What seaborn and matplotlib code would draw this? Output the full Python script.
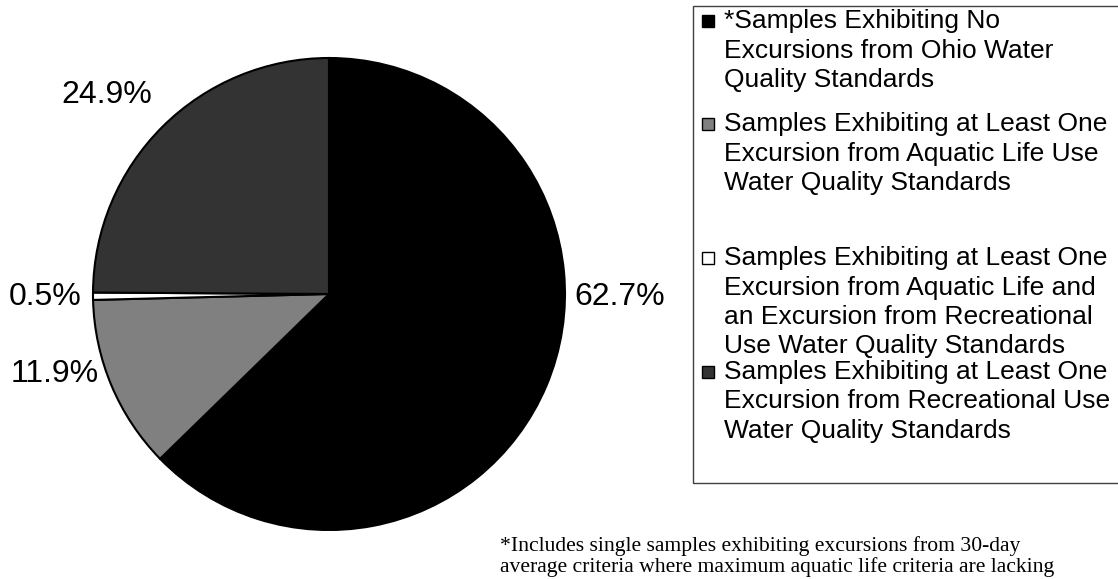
import matplotlib
matplotlib.use("Agg")
import matplotlib.pyplot as plt
from matplotlib.patches import Rectangle
import seaborn as sns

# Share of samples by water quality standard outcome
categories = [
    "*Samples Exhibiting No\nExcursions from Ohio Water\nQuality Standards",
    "Samples Exhibiting at Least One\nExcursion from Aquatic Life Use\nWater Quality Standards",
    "Samples Exhibiting at Least One\nExcursion from Aquatic Life and\nan Excursion from Recreational\nUse Water Quality Standards",
    "Samples Exhibiting at Least One\nExcursion from Recreational Use\nWater Quality Standards",
]
percentages = [62.7, 11.9, 0.5, 24.9]
colors = ["#000000", "#808080", "#ffffff", "#333333"]
footnote_lines = [
    "*Includes single samples exhibiting excursions from 30-day",
    "average criteria where maximum aquatic life criteria are lacking",
]

sns.set_style("white")
plt.rcParams["font.family"] = ["Liberation Sans", "DejaVu Sans"]

W, H = 1118, 579
fig = plt.figure(figsize=(W / 100, H / 100), dpi=100)


def fx(px):
    return px / W


def fy(py):
    return 1 - py / H


# Pie axes
cx, cy, r = 329, 294, 236
ax = fig.add_axes([fx(cx - r), fy(cy + r), 2 * r / W, 2 * r / H])
ax.pie(percentages, colors=colors, startangle=90, counterclock=False,
       radius=1, wedgeprops=dict(edgecolor="black", linewidth=1.5))
ax.set_xlim(-1, 1)
ax.set_ylim(-1, 1)
ax.set_aspect("equal")
ax.axis("off")

# Percentage labels placed around the pie
label_pos = [(1.233, -0.013), (-1.161, -0.339), (-1.201, -0.013), (-0.941, 0.843)]
for pct, (lx, ly) in zip(percentages, label_pos):
    ax.text(lx, ly, f"{pct:.1f}%", ha="center", va="center",
            fontsize=23, color="black", clip_on=False)

# Legend frame
fig.patches.append(Rectangle((fx(693), fy(483)), fx(1130 - 693), (483 - 6) / H,
                             transform=fig.transFigure, facecolor="white",
                             edgecolor="#404040", linewidth=1.0, zorder=0))

# Legend entries: swatch + wrapped label
entry_tops = [21, 124, 258, 372]
line_pitch = 29.5
for label, col, ytop in zip(categories, colors, entry_tops):
    fig.patches.append(Rectangle((fx(702), fy(ytop + 6)), 12 / W, 12 / H,
                                 transform=fig.transFigure, facecolor=col,
                                 edgecolor="black", linewidth=1.0, zorder=2))
    for i, line in enumerate(label.split("\n")):
        fig.text(fx(724), fy(ytop + i * line_pitch), line, ha="left",
                 va="center", fontsize=19, color="black")

# Footnote
for i, line in enumerate(footnote_lines):
    fig.text(fx(500), fy(546 + i * 21.5), line, ha="left", va="center",
             fontsize=15.6, family=["Liberation Serif", "DejaVu Serif"],
             color="black")

fig.savefig("out.png", dpi=100, facecolor="white")
